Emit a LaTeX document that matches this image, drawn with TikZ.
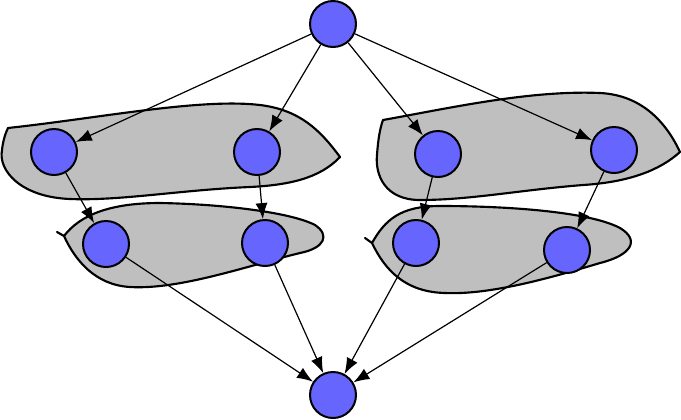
\documentclass[tikz,border=0pt]{standalone}
\usetikzlibrary{arrows.meta}
\begin{document}
\begin{tikzpicture}[x=0.75pt,y=-0.75pt,
    vert/.style={circle,draw,line width=1.5pt,fill=blue!60!white,minimum size=34.5pt,inner sep=0pt},
    blob/.style={draw,line width=1.6pt,fill=black!25,line join=round},
    edge/.style={line width=0.9pt,-{Latex[length=12pt,width=9pt]}}]
  \useasboundingbox (0,0) rectangle (681,419);
  % grey groups
  \filldraw[blob] (8,128) .. controls (100,118) and (200,98) .. (260,105)
    .. controls (300,110) and (320,130) .. (340,157)
    .. controls (320,178) and (290,185) .. (250,187)
    .. controls (180,190) and (120,201) .. (70,199)
    .. controls (20,197) and (-2,170) .. (2,150)
    .. controls (3,140) and (6,132) .. (8,128) -- cycle;
  \filldraw[blob] (383,120) .. controls (450,108) and (530,90) .. (600,93)
    .. controls (640,95) and (665,120) .. (680,152)
    .. controls (660,170) and (630,182) .. (583,185)
    .. controls (520,190) and (470,200) .. (420,200)
    .. controls (385,200) and (375,175) .. (377,155)
    .. controls (378,140) and (380,128) .. (383,120) -- cycle;
  \filldraw[blob] (57,232) -- (64,236) .. controls (80,215) and (110,203) .. (160,203)
    .. controls (220,204) and (290,212) .. (315,225)
    .. controls (330,235) and (325,248) .. (300,253)
    .. controls (250,265) and (180,290) .. (130,287)
    .. controls (95,285) and (75,260) .. (64,236) -- cycle;
  \filldraw[blob] (365,238) -- (372,243) .. controls (385,220) and (400,206) .. (440,206)
    .. controls (510,206) and (590,212) .. (620,228)
    .. controls (640,240) and (632,255) .. (600,263)
    .. controls (550,278) and (490,295) .. (445,293)
    .. controls (405,292) and (385,270) .. (372,243) -- cycle;
  % vertices
  \foreach \n/\x/\y in {top/333/24,l1/54/152,l2/257/152,r1/438/154,r2/614/150,
                        l3/106/244,l4/265/243,r3/416/243,r4/567/250,bot/333/395}{
    \node[vert] (\n) at (\x,\y) {};
  }
  % arrows
  \foreach \a/\b in {top/l1,top/l2,top/r1,top/r2,l1/l3,l2/l4,r1/r3,r2/r4,
                     l3/bot,l4/bot,r3/bot,r4/bot}{
    \draw[edge] (\a) -- (\b);
  }
\end{tikzpicture}
\end{document}
